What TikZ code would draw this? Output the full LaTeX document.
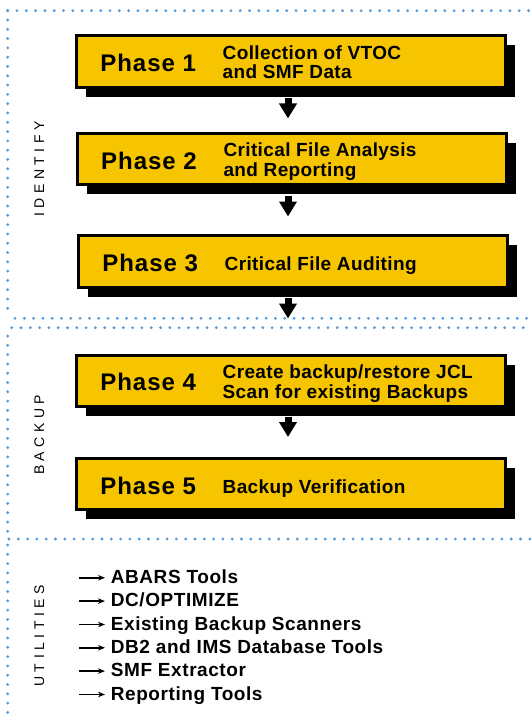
\documentclass[tikz,border=0pt]{standalone}
\usepackage{fontspec}
\setmainfont{Liberation Sans}
\newfontfamily\phasefont{Liberation Sans}[LetterSpace=4]
\newfontfamily\descfont{Liberation Sans}[LetterSpace=2]
\newfontfamily\utilfont{Liberation Sans}[LetterSpace=3]
\newfontfamily\labelfont{Liberation Sans}[LetterSpace=32]
\usetikzlibrary{arrows.meta,shadows}
\definecolor{phaseyellow}{RGB}{246,197,0}
\definecolor{dotblue}{RGB}{85,152,212}
\begin{document}
\begin{tikzpicture}[x=1pt,y=-1pt,
  phasebox/.style={fill=phaseyellow, draw=black, line width=3pt,
    minimum width=429pt, minimum height=51.3pt, inner sep=0pt,
    drop shadow={shadow xshift=9.5pt, shadow yshift=-9.5pt, fill=black, opacity=1}},
  phasetxt/.style={anchor=base west, inner sep=0pt, font=\phasefont\bfseries\fontsize{24}{24}\selectfont},
  desctxt/.style={anchor=base west, inner sep=0pt, align=left, font=\descfont\bfseries\fontsize{19}{19.8}\selectfont},
  utiltxt/.style={anchor=base west, inner sep=0pt, text height=13.5pt, text depth=2.5pt, font=\utilfont\bfseries\fontsize{19}{19}\selectfont},
  sectlabel/.style={rotate=90, inner sep=0pt, font=\labelfont\fontsize{14}{14}\selectfont},
  bigarrow/.style={line width=7pt, -{Triangle[width=17pt,length=15pt]}},
  uarrow/.style={line width=1.5pt, -{Stealth[length=7pt,width=5.5pt]}},
  dotline/.style={dotblue, line width=3.1pt, line cap=round, dash pattern=on 0pt off 9.3pt}]
\useasboundingbox (0,0) rectangle (531,714);

% dotted section borders
\draw[dotline] (7.7,10.7) -- (531,10.7);
\draw[dotline] (7.7,10.7) -- (7.7,315);
\draw[dotline] (15,318.3) -- (531,318.3);
\draw[dotline] (11.7,327.7) -- (531,327.7);
\draw[dotline] (7.7,336) -- (7.7,533);
\draw[dotline] (9,539) -- (531,539);
\draw[dotline] (7.7,545) -- (7.7,714);

% section labels
\node[sectlabel] (lid) at (39.3,169) {IDENTIFY};
\node[sectlabel] (lbk) at (39.3,435) {BACKUP};
\node[sectlabel] (lut) at (39.3,636) {UTILITIES};

% phase boxes
\node[phasebox] (b1) at (291,61.5) {};
\node[phasebox] (b2) at (291.8,159.2) {};
\node[phasebox] (b3) at (293,261.4) {};
\node[phasebox] (b4) at (291,380.7) {};
\node[phasebox] (b5) at (291,484.2) {};

\node[phasetxt] (p1) at ([xshift=25.2pt,yshift=-10pt]b1.west) {Phase 1};
\node[phasetxt] (p2) at ([xshift=25.2pt,yshift=-10pt]b2.west) {Phase 2};
\node[phasetxt] (p3) at ([xshift=25.2pt,yshift=-10pt]b3.west) {Phase 3};
\node[phasetxt] (p4) at ([xshift=25.2pt,yshift=-10pt]b4.west) {Phase 4};
\node[phasetxt] (p5) at ([xshift=25.2pt,yshift=-10pt]b5.west) {Phase 5};

\node[desctxt] (d1) at ([xshift=147.5pt,yshift=-17.5pt]b1.west) {Collection of VTOC\\and SMF Data};
\node[desctxt] (d2) at ([xshift=147.5pt,yshift=-17.5pt]b2.west) {Critical File Analysis\\and Reporting};
\node[desctxt] (d3) at ([xshift=147.5pt,yshift=-9.2pt]b3.west) {Critical File Auditing};
\node[desctxt] (d4) at ([xshift=147.5pt,yshift=-17.5pt]b4.west) {Create backup/restore JCL\\Scan for existing Backups};
\node[desctxt] (d5) at ([xshift=147.5pt,yshift=-9.2pt]b5.west) {Backup Verification};

% arrows between phases
\draw[bigarrow] ([xshift=-3pt,yshift=-9.5pt]b1.south) -- ([xshift=-3.8pt,yshift=13.55pt]b2.north);
\draw[bigarrow] ([xshift=-3.8pt,yshift=-9.5pt]b2.south) -- ([xshift=-5pt,yshift=17.75pt]b3.north);
\draw[bigarrow] ([xshift=-5pt,yshift=-9.5pt]b3.south) -- ([xshift=-3pt,yshift=35.05pt]b4.north);
\draw[bigarrow] ([xshift=-3pt,yshift=-9.5pt]b4.south) -- ([xshift=-3pt,yshift=20.05pt]b5.north);

% utilities
\node[utiltxt] (u1) at (110.7,583.3) {ABARS Tools};
\node[utiltxt] (u2) at (110.7,606.6) {DC/OPTIMIZE};
\node[utiltxt] (u3) at (110.7,630.0) {Existing Backup Scanners};
\node[utiltxt] (u4) at (110.7,653.3) {DB2 and IMS Database Tools};
\node[utiltxt] (u5) at (110.7,676.6) {SMF Extractor};
\node[utiltxt] (u6) at (110.7,700.0) {Reporting Tools};
\foreach \i in {1,...,6}{
  \draw[uarrow] ([xshift=-31.4pt]u\i.west) -- ([xshift=-5.7pt]u\i.west);
}
\end{tikzpicture}
\end{document}
